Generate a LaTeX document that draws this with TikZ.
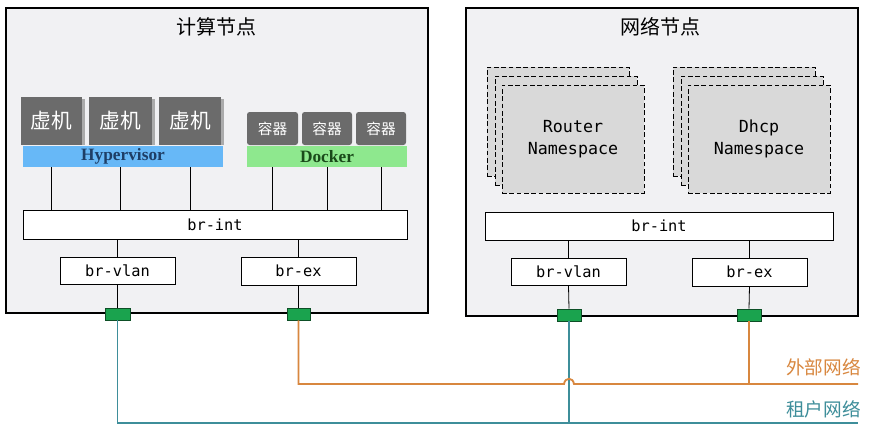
\documentclass[tikz,border=0pt]{standalone}
\usepackage{fontspec}
\setmainfont{Liberation Serif}
\setmonofont{DejaVu Sans Mono}
\newfontfamily\cjk{Noto Sans CJK SC}
\usetikzlibrary{fit,calc}
\definecolor{boxbg}{HTML}{F1F1F3}
\definecolor{vmgray}{HTML}{6B6B6B}
\definecolor{shadowgray}{HTML}{ABABAB}
\definecolor{hvblue}{HTML}{67B8F7}
\definecolor{hvtext}{HTML}{1E3E66}
\definecolor{dkgreen}{HTML}{8EE88E}
\definecolor{dktext}{HTML}{1A4A1A}
\definecolor{portgreen}{HTML}{1AA34E}
\definecolor{portedge}{HTML}{0D4F26}
\definecolor{nsgray}{HTML}{D9D9D9}
\definecolor{extorange}{HTML}{D8873F}
\definecolor{tenteal}{HTML}{3E8E9A}
\begin{document}
\begin{tikzpicture}[x=0.75pt,y=-0.75pt,
  hostbox/.style={draw=black, fill=boxbg, line width=0.8pt, inner sep=0pt},
  title/.style={font=\cjk\fontsize{15}{18}\selectfont, text=black},
  vmbox/.style={fill=vmgray, inner sep=0pt},
  vmtext/.style={text=white, font=\cjk\fontsize{15.5}{18}\selectfont},
  vmshadow/.style={fill=shadowgray, draw=none},
  ctbox/.style={fill=vmgray, rounded corners=2pt, inner sep=0pt},
  cttext/.style={text=white, font=\cjk\fontsize{11}{13}\selectfont},
  hvbar/.style={fill=hvblue, inner sep=0pt},
  dkbar/.style={fill=dkgreen, inner sep=0pt},
  bartext/.style={font=\bfseries\fontsize{13}{15}\selectfont},
  bridge/.style={draw=black, fill=white, line width=0.6pt, inner sep=0pt},
  bridgetext/.style={font=\ttfamily\fontsize{11.5}{14}\selectfont},
  nsbox/.style={draw=black, dash pattern=on 3.5pt off 2pt, fill=nsgray, line width=0.6pt, inner sep=0pt},
  nstext/.style={align=center, font=\ttfamily\fontsize{12.5}{17}\selectfont},
  port/.style={draw=portedge, fill=portgreen, line width=0.6pt, inner sep=0pt},
  link/.style={draw=black, line width=0.6pt},
  extnet/.style={draw=extorange, line width=1.4pt},
  tennet/.style={draw=tenteal, line width=1.4pt},
  netlabel/.style={anchor=east, inner sep=0pt, font=\cjk\fontsize{14}{16}\selectfont}
]
\useasboundingbox (0,0) rectangle (875,436);
\fill[white] (0,0) rectangle (875,436);

% ---------- compute node ----------
\node[hostbox, fit={(6,8)(428,313)}] (cn) {};
\node[title] (cntitle) at (216,27) {计算节点};

\fill[vmshadow] (24,99) rectangle (85,145);
\fill[vmshadow] (92,99) rectangle (155,145);
\fill[vmshadow] (162,99) rectangle (224,145);
\node[vmbox, fit={(21,97)(82,145)}] (vm1) {};
\node[vmbox, fit={(89,97)(152,145)}] (vm2) {};
\node[vmbox, fit={(159,97)(221,145)}] (vm3) {};
\node[vmtext] (vm1t) at (vm1.center) {虚机};
\node[vmtext] (vm2t) at (vm2.center) {虚机};
\node[vmtext] (vm3t) at (vm3.center) {虚机};

\node[ctbox, fit={(247,112)(298,145)}] (ct1) {};
\node[ctbox, fit={(302,112)(352,145)}] (ct2) {};
\node[ctbox, fit={(356,112)(406,145)}] (ct3) {};
\node[cttext] (ct1t) at (ct1.center) {容器};
\node[cttext] (ct2t) at (ct2.center) {容器};
\node[cttext] (ct3t) at (ct3.center) {容器};

\node[hvbar, fit={(23,146)(223,167)}] (hv) {};
\node[bartext, text=hvtext] (hvt) at (hv.center) {Hypervisor};
\node[dkbar, fit={(247,146)(407,167)}] (dk) {};
\node[bartext, text=dktext] (dkt) at (dk.center) {Docker};

\node[bridge, fit={(23,210)(407,239)}] (bi1) {};
\node[bridgetext] (bi1t) at (bi1.center) {br-int};
\node[bridge, fit={(60,257)(175,284)}] (bv1) {};
\node[bridgetext] (bv1t) at (bv1.center) {br-vlan};
\node[bridge, fit={(241,257)(356,285)}] (be1) {};
\node[bridgetext] (be1t) at (be1.center) {br-ex};

\foreach \v in {vm1,vm2,vm3} {
  \draw[link] (\v.south |- hv.south) -- (\v.south |- bi1.north);
}
\foreach \c in {ct1,ct2,ct3} {
  \draw[link] (\c.south |- dk.south) -- (\c.south |- bi1.north);
}
\draw[link] (bv1.north |- bi1.south) -- (bv1.north);
\draw[link] (be1.north |- bi1.south) -- (be1.north);

% ---------- network node ----------
\node[hostbox, fit={(466,8)(858,316)}] (nn) {};
\node[title] (nntitle) at (660,27) {网络节点};

\node[nsbox, fit={(487,67)(629,176)}] (rns3) {};
\node[nsbox, fit={(495,76)(637,185)}] (rns2) {};
\node[nsbox, fit={(502,85)(644,193)}] (rns) {};
\node[nstext] (rnst) at (rns.center) {Router\\Namespace};

\node[nsbox, fit={(673,67)(815,176)}] (dns3) {};
\node[nsbox, fit={(681,76)(823,185)}] (dns2) {};
\node[nsbox, fit={(688,85)(830,193)}] (dns) {};
\node[nstext] (dnst) at (dns.center) {Dhcp\\Namespace};

\node[bridge, fit={(485,212)(833,240)}] (bi2) {};
\node[bridgetext] (bi2t) at (bi2.center) {br-int};
\node[bridge, fit={(511,258)(626,285)}] (bv2) {};
\node[bridgetext] (bv2t) at (bv2.center) {br-vlan};
\node[bridge, fit={(692,258)(807,286)}] (be2) {};
\node[bridgetext] (be2t) at (be2.center) {br-ex};

\foreach \o in {-9,2,14} {
  \draw[link] ($(rns.south)+(\o,0)$) -- ($(rns.south)+(\o,0)$ |- bi2.north);
}
\foreach \o in {-12,0,11} {
  \draw[link] ($(dns.south)+(\o,0)$) -- ($(dns.south)+(\o,0)$ |- bi2.north);
}
\draw[link] (bv2.north |- bi2.south) -- (bv2.north);
\draw[link] (be2.north |- bi2.south) -- (be2.north);

% ---------- ports ----------
\node[port, fit={(105,308)(130,320)}] (p1) {};
\node[port, fit={(287,308)(310,320)}] (p2) {};
\node[port, fit={(557,309)(581,321)}] (p3) {};
\node[port, fit={(737,309)(761,321)}] (p4) {};
\draw[link] (bv1.south) -- (p1.north);
\draw[link] (be1.south) -- (p2.north);
\draw[link] (bv2.south) -- (p3.north);
\draw[link] (be2.south) -- (p4.north);

% ---------- external networks ----------
\coordinate (extend) at (858,384);
\coordinate (tenend) at (858,423);
\coordinate (hop) at (p3.south |- extend);

\draw[tennet] (p1.south) |- (tenend);
\draw[tennet] (p3.south) -- (p3.south |- tenend);

\draw[extnet] (p2.south) |- ($(hop)+(-5,0)$)
  .. controls ($(hop)+(-4,-7)$) and ($(hop)+(4,-7)$) .. ($(hop)+(5,0)$) -- (extend);
\draw[extnet] (p4.south) -- (p4.south |- extend);

\node[netlabel, text=extorange] (extlabel) at (861,367) {外部网络};
\node[netlabel, text=tenteal] (tenlabel) at (861,409) {租户网络};
\end{tikzpicture}
\end{document}
